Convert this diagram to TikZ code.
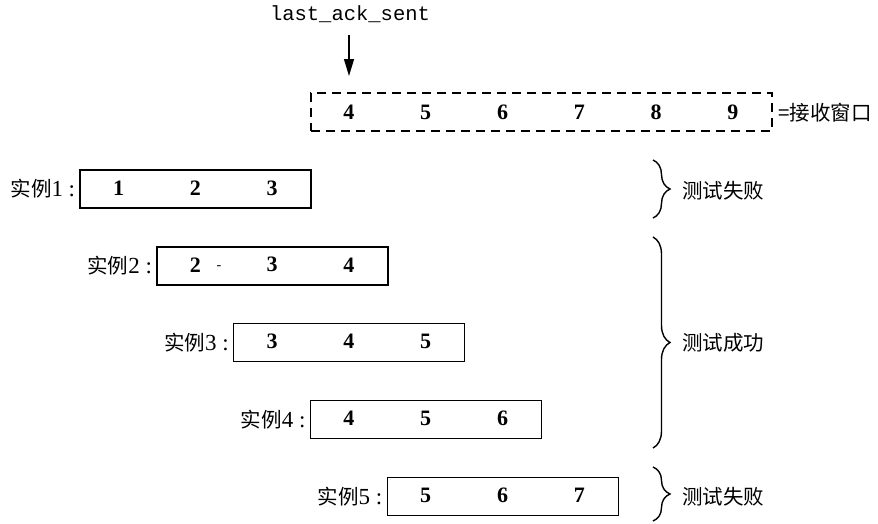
\documentclass[tikz,border=0pt]{standalone}
\usepackage{fontspec}
\setmainfont{Liberation Serif}
\setmonofont{Liberation Mono}
\newfontfamily\cjk{Noto Sans CJK SC}
\usetikzlibrary{arrows.meta,decorations.pathreplacing}
\begin{document}
\begin{tikzpicture}[x=1pt,y=-1pt,
  instbox/.style={draw,line width=1.4pt,minimum width=231pt,minimum height=38pt,inner sep=0pt},
  winbox/.style={draw,line width=1.4pt,dash pattern=on 9pt off 6pt,minimum width=461pt,minimum height=38pt,inner sep=0pt},
  num/.style={inner sep=0pt,font=\fontsize{22}{26}\selectfont\bfseries},
  lab/.style={inner sep=0pt,anchor=east,font=\fontsize{20.5}{24}\selectfont},
  res/.style={inner sep=0pt,anchor=west,font=\fontsize{20.5}{24}\selectfont\cjk},
  bracestyle/.style={decorate,decoration={brace,amplitude=17pt},line width=1.4pt},
  ptr/.style={line width=1.3pt,-{Triangle[length=17pt,width=10pt]}}
]
\useasboundingbox (0,0) rectangle (878,523);
\def\nx#1{118.5+76.8*(#1-1)}
% pointer
\node[inner sep=0pt,font=\fontsize{20.5}{24}\selectfont\ttfamily] (lack) at (350,14) {last\_ack\_sent};
\coordinate (as) at (349,35);
\coordinate (ae) at (349,76);
\draw[ptr] (as) -- (ae);
% receive window
\node[winbox] (win) at (541.5,112) {};
\foreach \n in {4,...,9} {
  \node[num] (w\n) at ({\nx{\n}},112) {\n};
}
\node[res] (wlab) at (778,113) {=接收窗口};
% instances
\foreach \i in {1,...,5} {
  \pgfmathsetmacro{\cy}{189+76.8*(\i-1)}
  \node[instbox] (b\i) at ({\nx{\i}+76.8+0.25},\cy) {};
  \node[lab] (l\i) at ([xshift=-4pt]b\i.west) {{\cjk 实例}{\fontsize{23}{26}\selectfont\i\ :}};
  \foreach \k in {0,1,2} {
    \pgfmathtruncatemacro{\n}{\i+\k}
    \node[num] (n\i\k) at ({\nx{\n}},\cy-1) {\n};
  }
}
\node[inner sep=0pt,font=\fontsize{14}{16}\selectfont] (dash) at (219,268) {-};
% braces
\coordinate (t1) at (653,160); \coordinate (u1) at (653,218);
\coordinate (t2) at (653,237); \coordinate (u2) at (653,448);
\coordinate (t3) at (653,467); \coordinate (u3) at (653,521);
\draw[bracestyle] (t1) -- (u1);
\draw[bracestyle] (t2) -- (u2);
\draw[bracestyle] (t3) -- (u3);
\node[res] (r1) at (682,191) {测试失败};
\node[res] (r2) at (682,343) {测试成功};
\node[res] (r3) at (682,497) {测试失败};
\end{tikzpicture}
\end{document}
